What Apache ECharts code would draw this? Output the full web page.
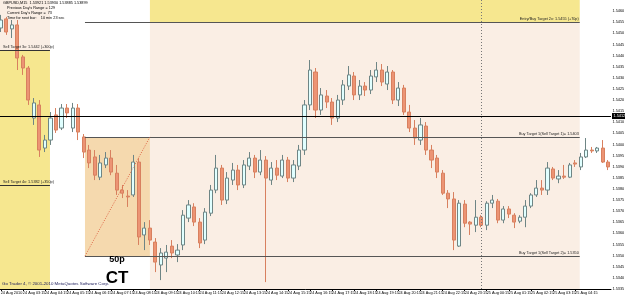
<!DOCTYPE html>
<html><head><meta charset="utf-8">
<script src="https://cdn.jsdelivr.net/npm/echarts/dist/echarts.min.js"></script>
<style>html,body{margin:0;padding:0;background:#fff}#c{width:625px;height:296px}</style>
</head><body><div id="c"></div>
<script>
// GBPUSD M15, 24-25 Aug 2010
const opens=[1.54524,1.54565,1.54520,1.54538,1.54394,1.54344,1.54119,1.54178,1.53984,1.54020,
1.54133,1.54074,1.54164,1.54074,1.54164,1.54034,1.53975,1.53944,1.53853,1.53908,
1.53939,1.53871,1.53795,1.53768,1.53773,1.53921,1.53593,1.53624,1.53561,1.53458,
1.53489,1.53543,1.53503,1.53548,1.53669,1.53719,1.53651,1.53570,1.53691,1.53795,
1.53894,1.53750,1.53840,1.53885,1.53818,1.53903,1.53939,1.53876,1.53930,1.53840,
1.53894,1.53858,1.53930,1.53849,1.53903,1.53975,1.54178,1.54326,1.54155,1.54218,
1.54191,1.54119,1.54200,1.54263,1.54308,1.54223,1.54263,1.54245,1.54304,1.54335,
1.54272,1.54326,1.54200,1.54254,1.54146,1.54074,1.54020,1.54083,1.53975,1.53939,
1.53871,1.53781,1.53755,1.53543,1.53732,1.53651,1.53637,1.53673,1.53637,1.53736,
1.53745,1.53660,1.53710,1.53682,1.53655,1.53673,1.53723,1.53773,1.53804,1.53795,
1.53890,1.53845,1.53858,1.53853,1.53917,1.53899,1.53944,1.53975,1.53971,1.53984,
1.53921];
const closes=[1.54560,1.54506,1.54538,1.54389,1.54344,1.54200,1.54187,1.53975,1.54020,1.54119,
1.54065,1.54164,1.54142,1.54164,1.54056,1.53966,1.53917,1.53862,1.53917,1.53939,
1.53876,1.53795,1.53781,1.53764,1.53921,1.53584,1.53624,1.53570,1.53471,1.53512,
1.53516,1.53512,1.53525,1.53682,1.53728,1.53651,1.53557,1.53696,1.53795,1.53894,
1.53750,1.53849,1.53885,1.53818,1.53908,1.53939,1.53876,1.53930,1.53849,1.53894,
1.53862,1.53930,1.53849,1.53908,1.53975,1.54178,1.54335,1.54155,1.54223,1.54191,
1.54119,1.54200,1.54268,1.54313,1.54223,1.54263,1.54245,1.54308,1.54335,1.54281,
1.54326,1.54200,1.54254,1.54146,1.54074,1.54029,1.54088,1.53975,1.53930,1.53876,
1.53781,1.53755,1.53570,1.53736,1.53646,1.53642,1.53673,1.53637,1.53736,1.53750,
1.53660,1.53710,1.53687,1.53651,1.53673,1.53723,1.53773,1.53804,1.53795,1.53894,
1.53849,1.53858,1.53853,1.53908,1.53912,1.53944,1.53975,1.53971,1.53984,1.53921,
1.53899];
const lows=[1.54506,1.54493,1.54479,1.54335,1.54313,1.54178,1.54088,1.53944,1.53966,1.53998,
1.54052,1.54065,1.54119,1.54056,1.54020,1.53939,1.53894,1.53840,1.53840,1.53894,
1.53862,1.53773,1.53759,1.53719,1.53764,1.53548,1.53525,1.53548,1.53426,1.53390,
1.53426,1.53489,1.53471,1.53525,1.53651,1.53633,1.53534,1.53552,1.53678,1.53781,
1.53728,1.53732,1.53818,1.53795,1.53804,1.53885,1.53849,1.53862,1.53381,1.53818,
1.53840,1.53849,1.53831,1.53831,1.53885,1.53953,1.54155,1.54119,1.54133,1.54164,
1.54088,1.54101,1.54178,1.54245,1.54200,1.54200,1.54218,1.54227,1.54281,1.54263,
1.54245,1.54182,1.54173,1.54133,1.54056,1.53998,1.53998,1.53953,1.53894,1.53849,
1.53773,1.53714,1.53525,1.53539,1.53628,1.53593,1.53606,1.53628,1.53615,1.53714,
1.53646,1.53646,1.53669,1.53624,1.53646,1.53628,1.53714,1.53764,1.53773,1.53773,
1.53840,1.53826,1.53845,1.53849,1.53899,1.53885,1.53939,1.53962,1.53962,1.53917,
1.53885];
const highs=[1.54583,1.54574,1.54560,1.54560,1.54403,1.54353,1.54209,1.54200,1.54043,1.54146,
1.54164,1.54182,1.54182,1.54187,1.54182,1.54047,1.53998,1.53975,1.53953,1.53966,
1.53975,1.53908,1.53818,1.53795,1.53953,1.53939,1.53651,1.53660,1.53579,1.53534,
1.53548,1.53570,1.53552,1.53705,1.53750,1.53736,1.53669,1.53714,1.53818,1.53953,
1.53908,1.53876,1.53917,1.53908,1.53930,1.53966,1.53953,1.53975,1.53948,1.53921,
1.53930,1.53953,1.53944,1.53930,1.53998,1.54200,1.54380,1.54344,1.54254,1.54245,
1.54209,1.54223,1.54290,1.54353,1.54326,1.54290,1.54281,1.54335,1.54371,1.54362,
1.54353,1.54335,1.54281,1.54268,1.54178,1.54110,1.54119,1.54101,1.53998,1.53953,
1.53885,1.53795,1.53786,1.53750,1.53750,1.53655,1.53750,1.53682,1.53745,1.53773,
1.53755,1.53723,1.53723,1.53691,1.53682,1.53750,1.53781,1.53840,1.53840,1.53921,
1.53899,1.53885,1.53908,1.53917,1.53930,1.53962,1.54029,1.53989,1.53989,1.54020,
1.53930];

// levels (price) and session boundaries (bar positions)
const priceMin=1.5335, priceMax=1.5465, priceStep=0.0005;
const currentLevel=1.54128;
const targetLevels=[1.54551,1.54034,1.53498];
const targetTexts=['Entry/Buy Target 2x: 1.5455 (+70p)','Buy Target 1(Sell Target 1)= 1.5403','Buy Target 1(Sell Target 2)= 1.5350'];
const leftLevels=[1.54425,1.53818];
const leftTexts=['Sell Target 3x: 1.5442 (+300p)','Sell Target 4x: 1.5382 (+350p)'];
const leftZoneEnd=8.91, boxStart=15.25, boxEnd=27.01, zoneEnd=104.84, dayBreak=87;
const barCount=opens.length;

// time categories: M15 bars starting 24 Aug 02:15
const cats=[];
for(let i=0;i<barCount;i++){
  const m=2*60+15+15*i;
  const d=24+Math.floor(m/1440);
  const hh=Math.floor((m%1440)/60), mm=m%60;
  cats.push(d+' Aug '+String(hh).padStart(2,'0')+':'+String(mm).padStart(2,'0'));
}
const candles=opens.map((o,i)=>[o,closes[i],lows[i],highs[i]]);

const FONT='Liberation Sans';
const PINK='#FAEEE4', YELLOW='#F6E78F', ORANGE='#F5D9AE';
const chart=echarts.init(document.getElementById('c'),null,{renderer:'canvas'});
const lblSmall={show:true,fontSize:3.8,fontFamily:FONT,color:'#222',distance:1};
chart.setOption({
  animation:false,
  backgroundColor:'#ffffff',
  grid:{left:-2,right:14,top:0,bottom:7,containLabel:false,outerBoundsMode:'none'},
  xAxis:[{
    type:'category',data:cats,boundaryGap:true,
    axisLine:{lineStyle:{color:'#000',width:1}},
    axisTick:{show:true,interval:3,length:2,alignWithLabel:true,lineStyle:{color:'#000'}},
    axisLabel:{interval:3,fontSize:3.8,fontFamily:FONT,color:'#000',margin:2,align:'left',
      formatter:(v,i)=>i===0?'24 Aug 2010':v},
    splitLine:{show:false}
  },{
    type:'value',min:-0.5,max:barCount-0.5,show:false
  }],
  yAxis:{
    type:'value',position:'right',min:priceMin,max:priceMax,interval:priceStep,scale:true,
    axisLine:{show:true,lineStyle:{color:'#000'}},
    axisTick:{show:true,length:2,lineStyle:{color:'#000'}},
    axisLabel:{fontSize:3.8,fontFamily:FONT,color:'#000',margin:1.5,showMaxLabel:false,
      formatter:v=>v.toFixed(4)},
    splitLine:{show:false}
  },
  series:[{
    type:'line',xAxisIndex:1,data:[],z:1,silent:true,
    markArea:{silent:true,data:[
      [{xAxis:-0.5,yAxis:leftLevels[0],itemStyle:{color:PINK}},{xAxis:leftZoneEnd,yAxis:priceMax}],
      [{xAxis:-0.5,yAxis:priceMin,itemStyle:{color:YELLOW}},{xAxis:leftZoneEnd,yAxis:leftLevels[0]}],
      [{xAxis:boxEnd,yAxis:targetLevels[0],itemStyle:{color:YELLOW}},{xAxis:zoneEnd,yAxis:priceMax}],
      [{xAxis:boxEnd,yAxis:priceMin,itemStyle:{color:PINK}},{xAxis:zoneEnd,yAxis:targetLevels[0]}],
      [{xAxis:boxStart,yAxis:targetLevels[2],itemStyle:{color:ORANGE}},{xAxis:boxEnd,yAxis:targetLevels[1]}]
    ]}
  },{
    type:'candlestick',xAxisIndex:0,yAxisIndex:0,data:candles,z:3,barWidth:3.6,
    itemStyle:{color:'#E0FFFF',color0:'#EC9474',borderColor:'#6E8585',borderColor0:'#D8805F',borderWidth:1}
  },{
    type:'line',xAxisIndex:1,data:[],z:4,silent:true,
    markLine:{silent:true,symbol:['none','none'],label:{show:false},data:[
      [{coord:[boxStart,targetLevels[0]],lineStyle:{color:'#555',width:1,type:'solid'}},
       {coord:[zoneEnd,targetLevels[0]],label:{...lblSmall,position:'insideEndTop',formatter:targetTexts[0]}}],
      [{coord:[boxStart,targetLevels[1]],lineStyle:{color:'#555',width:1,type:'solid'}},
       {coord:[zoneEnd,targetLevels[1]],label:{...lblSmall,position:'insideEndTop',formatter:targetTexts[1]}}],
      [{coord:[boxStart,targetLevels[2]],lineStyle:{color:'#555',width:1,type:'solid'}},
       {coord:[zoneEnd,targetLevels[2]],label:{...lblSmall,position:'insideEndTop',formatter:targetTexts[2]}}],
      [{coord:[-0.5,leftLevels[0]],lineStyle:{color:'#333',width:1,type:'solid'}},
       {coord:[leftZoneEnd,leftLevels[0]],label:{...lblSmall,position:'insideStartTop',distance:[5,1],formatter:leftTexts[0]}}],
      [{coord:[-0.5,leftLevels[1]],lineStyle:{color:'#333',width:1,type:'solid'}},
       {coord:[leftZoneEnd,leftLevels[1]],label:{...lblSmall,position:'insideStartTop',distance:[5,1],formatter:leftTexts[1]}}],
      [{coord:[-0.5,currentLevel],lineStyle:{color:'#000',width:1,type:'solid'}},
       {coord:[barCount-0.5,currentLevel],label:{show:true,position:'end',distance:1,fontSize:3.8,fontFamily:FONT,
         color:'#fff',backgroundColor:'#000',padding:[1,1.5],formatter:currentLevel.toFixed(5)}}],
      [{coord:[dayBreak,priceMin],lineStyle:{color:'#777',width:1,type:[1,2]}},
       {coord:[dayBreak,priceMax],label:{show:false}}],
      [{coord:[boxStart,targetLevels[2]],lineStyle:{color:'#E0694A',width:1,type:[1,1.5]}},
       {coord:[boxEnd,targetLevels[1]],label:{show:false}}]
    ]}
  }],
  graphic:[
    {type:'text',left:3,top:1,z:10,style:{text:'GBPUSD,M15  1.53921 1.53930 1.53885 1.53899',fontSize:3.8,fontFamily:FONT,fill:'#000'}},
    {type:'text',left:7,top:6,z:10,style:{text:"Previous Day's Range = 129",fontSize:3.8,fontFamily:FONT,fill:'#000'}},
    {type:'text',left:7,top:11,z:10,style:{text:"Current Day's Range =  73",fontSize:3.8,fontFamily:FONT,fill:'#000'}},
    {type:'text',left:7,top:16,z:10,style:{text:'Time for next bar:    10 min 23 sec',fontSize:3.8,fontFamily:FONT,fill:'#000'}},
    {type:'text',x:117,y:260,z:10,style:{text:'50p',fontSize:9,fontWeight:'bold',fontFamily:FONT,fill:'#000',align:'center',verticalAlign:'middle'}},
    {type:'text',x:117,y:278,z:10,style:{text:'CT',fontSize:17,fontWeight:'bold',fontFamily:FONT,fill:'#000',align:'center',verticalAlign:'middle'}},
    {type:'text',left:2,top:282,z:10,style:{text:'Go Trader 4, \u00a9 2001-2010 MetaQuotes Software Corp.',fontSize:4.4,fontFamily:FONT,fill:'#1a1a5a'}}
  ]
});
</script></body></html>
